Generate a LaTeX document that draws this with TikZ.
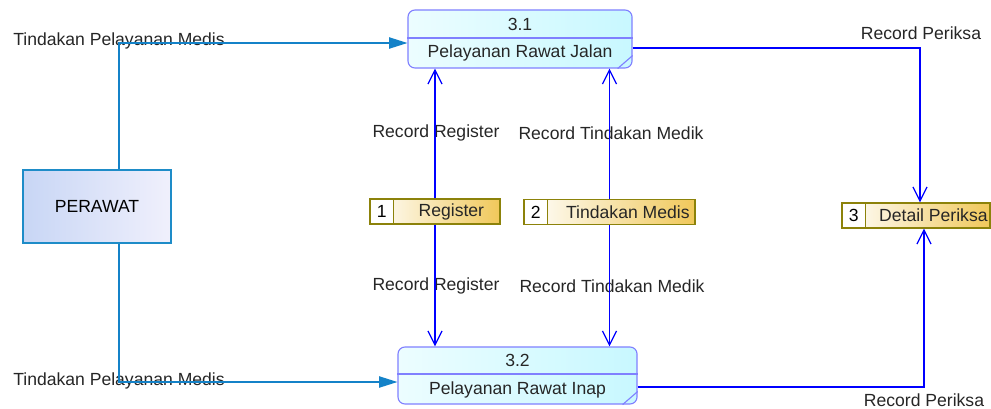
\documentclass[tikz,border=0pt]{standalone}
\usepackage{fontspec}
\setmainfont{Liberation Sans}
\usetikzlibrary{arrows.meta,positioning,calc}
\definecolor{ProcLine}{RGB}{128,128,255}
\definecolor{ProcFillA}{RGB}{236,253,255}
\definecolor{ProcFillB}{RGB}{200,248,255}
\definecolor{ExtLine}{RGB}{30,140,200}
\definecolor{ExtFillA}{RGB}{200,214,245}
\definecolor{ExtFillB}{RGB}{240,240,252}
\definecolor{StoreLine}{RGB}{140,130,10}
\definecolor{StoreFill}{RGB}{240,200,90}
\definecolor{FlowBlue}{RGB}{0,0,255}
\definecolor{FeedBlue}{RGB}{20,130,200}

\begin{document}
\begin{tikzpicture}[x=0.025cm,y=-0.025cm,
  proc/.style={draw=ProcLine,line width=0.8pt,rounded corners=5pt,
               left color=ProcFillA,right color=ProcFillB},
  procline/.style={draw=ProcLine,line width=0.8pt},
  txt/.style={font=\fontsize{12.5}{14}\selectfont,text=black!85,inner sep=0pt},
  ext/.style={draw=ExtLine,line width=0.9pt,left color=ExtFillA,right color=ExtFillB,
              minimum width=3.7cm,minimum height=1.825cm,font=\fontsize{12.5}{14}\selectfont},
  store/.style={draw=StoreLine,line width=0.8pt,left color=white,right color=StoreFill,
                minimum height=0.625cm},
  snum/.style={draw=StoreLine,line width=0.8pt,fill=white,minimum width=0.59cm,
               minimum height=0.625cm,inner sep=0pt,font=\fontsize{12.5}{14}\selectfont},
  flow/.style={draw=FlowBlue,line width=0.9pt,-{Straight Barb[length=10pt,width=10pt]}},
  feed/.style={draw=FeedBlue,line width=0.9pt,-{Triangle[length=13pt,width=8pt]}},
]
\useasboundingbox (0,0) rectangle (991,408);

% external entity
\node[ext] (per) at (97,206.5) {PERAWAT};

% processes
\node[proc,minimum width=5.6cm,minimum height=1.45cm] (p31) at (520,39) {};
\draw[procline] (p31.west |- 0,38) -- (p31.east |- 0,38);
\draw[procline] ($(p31.south east)+(-15,0)$) -- ($(p31.south east)+(0,-13)$);
\node[txt] (p31id) at (520,24) {3.1};
\node[txt] (p31nm) at (520,53) {Pelayanan Rawat Jalan};

\node[proc,minimum width=5.975cm,minimum height=1.425cm] (p32) at (517.5,375.5) {};
\draw[procline] (p32.west |- 0,374) -- (p32.east |- 0,374);
\draw[procline] ($(p32.south east)+(-15,0)$) -- ($(p32.south east)+(0,-13)$);
\node[txt] (p32id) at (517.5,360) {3.2};
\node[txt] (p32nm) at (517.5,390) {Pelayanan Rawat Inap};

% data stores
\node[store,minimum width=3.25cm] (ds1) at (435,211.5) {};
\node[snum,anchor=west] (ds1n) at (ds1.west) {1};
\node[txt] (ds1t) at ($(ds1n.east)!0.5!(ds1.east)+(4,0)$) {Register};

\node[store,minimum width=4.275cm] (ds2) at (609.5,212) {};
\node[snum,anchor=west] (ds2n) at (ds2.west) {2};
\node[txt] (ds2t) at ($(ds2n.east)!0.5!(ds2.east)+(6,0)$) {Tindakan Medis};

\node[store,minimum width=3.7cm] (ds3) at (916,215.5) {};
\node[snum,anchor=west] (ds3n) at (ds3.west) {3};
\node[txt] (ds3t) at ($(ds3n.east)!0.5!(ds3.east)+(5,0)$) {Detail Periksa};

% flow labels
\node[txt] (l1) at (119,41) {Tindakan Pelayanan Medis};
\node[txt] (l2) at (119,381) {Tindakan Pelayanan Medis};
\node[txt] (l3) at (436,133) {Record Register};
\node[txt] (l4) at (436,286) {Record Register};
\node[txt] (l5) at (611,133) {Record Tindakan Medik};
\node[txt] (l6) at (612,286) {Record Tindakan Medik};
\node[txt] (l7) at (921,33) {Record Periksa};
\node[txt] (l8) at (924,400) {Record Periksa};

% flows
\draw[feed] ($(per.north)+(22,0)$) |- ($(p31.west)+(0,4)$);
\draw[feed] ($(per.south)+(22,0)$) |- ($(p32.west)+(0,6.5)$);
\draw[flow] (ds1.north) -- (ds1.north |- p31.south);
\draw[flow] (ds1.south) -- (ds1.south |- p32.north);
\draw[flow] (ds2.north) -- (ds2.north |- p31.south);
\draw[flow] (ds2.south) -- (ds2.south |- p32.north);
\draw[flow] ($(p31.east)+(0,9)$) -| ($(ds3.north)+(4,0)$);
\draw[flow] ($(p32.east)+(0,11.5)$) -| ($(ds3.south)+(8,0)$);
\end{tikzpicture}
\end{document}
